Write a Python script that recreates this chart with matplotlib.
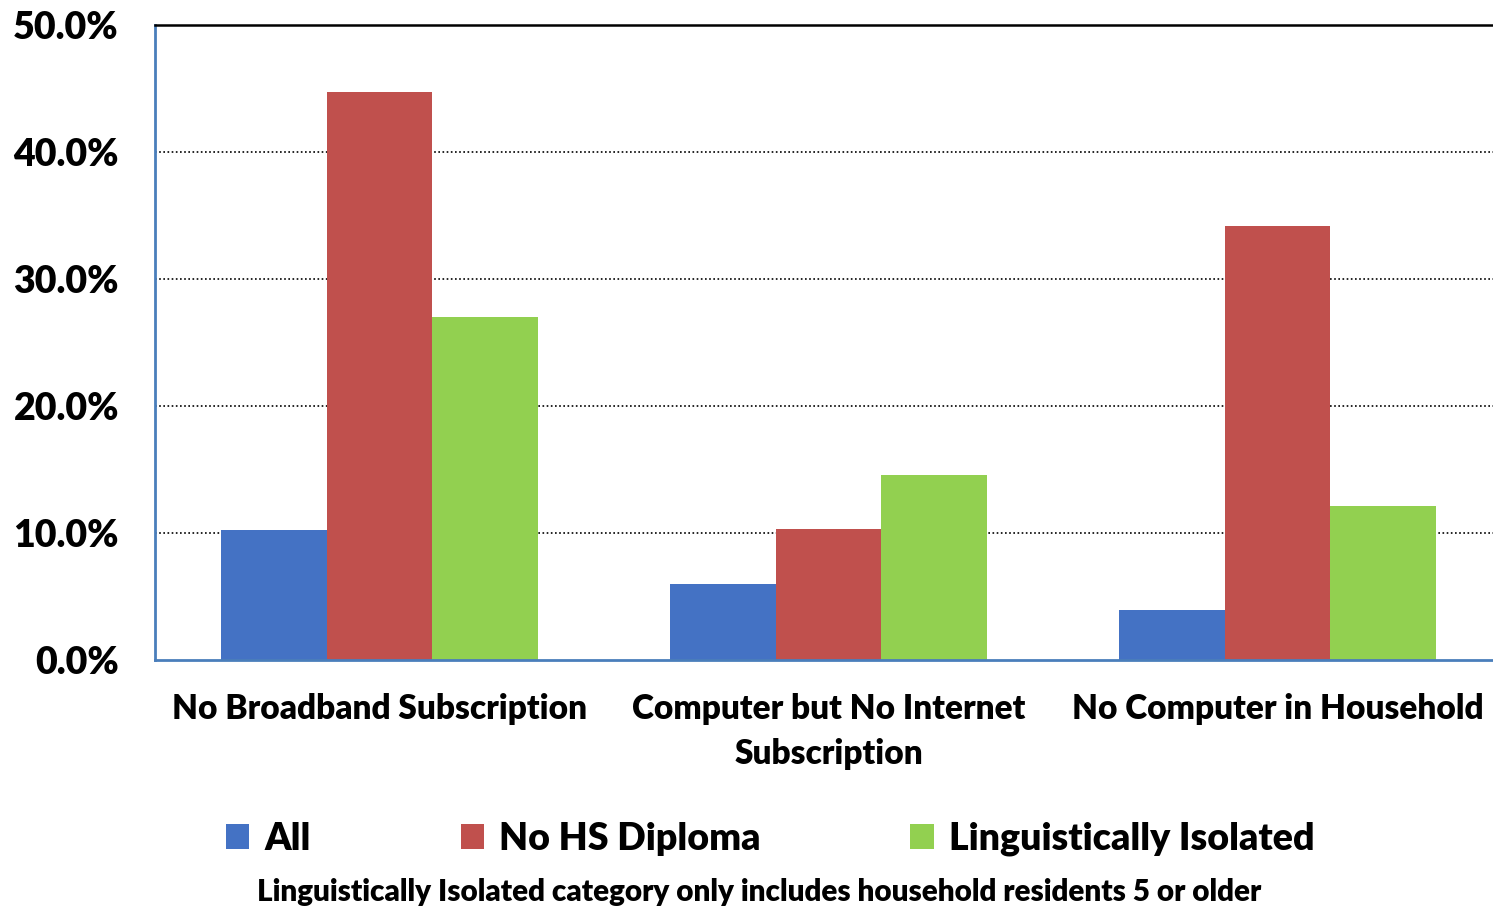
import matplotlib.pyplot as plt
import numpy as np

# data (percent)
categories = ['No Broadband Subscription', 'Computer but No Internet\nSubscription', 'No Computer in Household']
series_names = ['All', 'No HS Diploma', 'Linguistically Isolated']
all_vals = [10.2, 6.0, 3.9]
no_hs_vals = [44.7, 10.3, 34.2]
ling_vals = [27.0, 14.6, 12.1]
y_ticks = [0, 10, 20, 30, 40, 50]
colors = ['#4472C4', '#C0504D', '#92D050']

plt.rcParams['font.family'] = ['Lato', 'DejaVu Sans']
wt = 800

fig = plt.figure(figsize=(14.93, 9.07), dpi=100)
ax = fig.add_axes([155 / 1493, 247 / 907, 1347 / 1493, 635 / 907])

x = np.arange(len(categories))
w = 0.235
for i, (vals, name) in enumerate(zip([all_vals, no_hs_vals, ling_vals], series_names)):
    ax.bar(x + (i - 1) * w, vals, width=w, color=colors[i], label=name, zorder=2)

ax.set_xlim(-0.5, 2.5)
ax.set_ylim(0, 50)
ax.set_yticks(y_ticks)
ax.set_yticklabels([f'{t:.1f}%' for t in y_ticks], fontsize=27, fontweight=wt)
ax.set_xticks(x)
ax.set_xticklabels(categories, fontsize=24, fontweight=wt, linespacing=1.47)
ax.tick_params(axis='y', length=0, pad=26)
ax.tick_params(axis='x', length=0, pad=24)

# dotted gridlines
for t in y_ticks[1:-1]:
    ax.axhline(t, color='black', linestyle=(0, (1, 1.5)), linewidth=1.2, zorder=1)

ax.spines['right'].set_visible(False)
ax.spines['top'].set_color('black')
ax.spines['top'].set_linewidth(1.8)
ax.spines['left'].set_color('#4A7EBB')
ax.spines['left'].set_linewidth(2)
ax.spines['bottom'].set_color('#4A7EBB')
ax.spines['bottom'].set_linewidth(2)
ax.spines['bottom'].set_zorder(3)

fig.legend(loc='center', bbox_to_anchor=(770 / 1493, 1 - 839 / 907), ncol=3,
           frameon=False, handlelength=0.62, handleheight=0.62,
           handletextpad=0.4, columnspacing=4.0, prop={'weight': wt, 'size': 27})

fig.text(759 / 1493, 1 - 892 / 907,
         'Linguistically Isolated category only includes household residents 5 or older',
         ha='center', va='center', fontsize=21.3, fontweight=wt)

fig.savefig('out.png', dpi=100)
